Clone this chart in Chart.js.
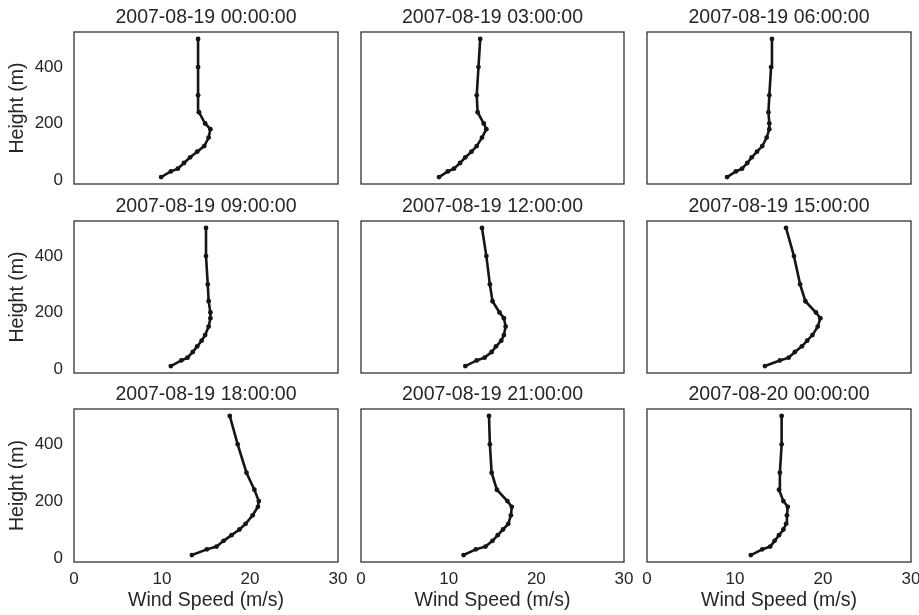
<!DOCTYPE html>
<html>
<head>
<meta charset="utf-8">
<script src="https://cdn.jsdelivr.net/npm/chart.js@4.4.0/dist/chart.umd.min.js"></script>
<style>
  html, body { margin: 0; padding: 0; background: #fff; overflow: hidden; }
  #wrap { position: relative; width: 919px; height: 615px; overflow: hidden; }
  #wrap canvas { position: absolute; }
</style>
</head>
<body>
<div id="wrap"></div>
<script>
// heights of the profile levels (m)
const heights = [10, 30, 40, 60, 80, 100, 120, 150, 180, 200, 240, 300, 400, 500];

const times = [
    '2007-08-19 00:00:00', '2007-08-19 03:00:00', '2007-08-19 06:00:00',
    '2007-08-19 09:00:00', '2007-08-19 12:00:00', '2007-08-19 15:00:00',
    '2007-08-19 18:00:00', '2007-08-19 21:00:00', '2007-08-20 00:00:00'
];

// wind speed (m/s) per level, bottom to top
const speed00 = [9.9, 11.0, 11.8, 12.5, 13.2, 14.0, 14.8, 15.3, 15.5, 14.9, 14.2, 14.1, 14.1, 14.1];
const speed03 = [8.9, 9.9, 10.6, 11.3, 11.9, 12.6, 13.2, 13.8, 14.3, 14.0, 13.3, 13.2, 13.4, 13.6];
const speed06 = [9.1, 10.1, 10.8, 11.4, 11.9, 12.5, 13.1, 13.6, 13.9, 13.9, 13.8, 13.9, 14.1, 14.2];
const speed09 = [11.0, 12.2, 12.9, 13.5, 14.0, 14.5, 14.9, 15.3, 15.5, 15.5, 15.3, 15.2, 15.0, 15.0];
const speed12 = [11.9, 13.2, 14.1, 14.9, 15.4, 16.0, 16.3, 16.5, 16.3, 15.8, 15.0, 14.7, 14.3, 13.8];
const speed15 = [13.4, 15.1, 16.1, 16.8, 17.6, 18.2, 18.8, 19.4, 19.7, 19.2, 18.0, 17.4, 16.7, 15.8];
const speed18 = [13.4, 15.1, 16.2, 17.0, 17.9, 18.8, 19.5, 20.3, 20.9, 21.0, 20.5, 19.6, 18.6, 17.7];
const speed21 = [11.7, 13.1, 14.2, 15.0, 15.6, 16.2, 16.8, 17.1, 17.2, 16.7, 15.5, 14.9, 14.7, 14.6];
const speed24 = [11.8, 13.1, 14.0, 14.5, 15.0, 15.5, 15.8, 15.9, 16.0, 15.5, 15.0, 15.1, 15.3, 15.3];
const allSpeeds = [speed00, speed03, speed06, speed09, speed12, speed15, speed18, speed21, speed24];

const xTicks = [0, 10, 20, 30];
const yTicks = [0, 200, 400];

// panel boxes in the page
const colLeft = [74, 361, 647];
const colWidth = [264, 263, 264];
const rowTop = [32, 221, 409];
const rowHeight = [152, 152, 153];

const textColor = '#262626';
Chart.defaults.font.family = '"Liberation Sans", Arial, Helvetica, sans-serif';
Chart.defaults.color = textColor;

// draws the box around the plot area
const framePlugin = {
    id: 'frame',
    beforeDatasetsDraw(chart) {
        const a = chart.chartArea;
        const ctx = chart.ctx;
        ctx.save();
        ctx.strokeStyle = '#333333';
        ctx.lineWidth = 1.3;
        ctx.strokeRect(a.left, a.top, a.right - a.left, a.bottom - a.top);
        ctx.restore();
    }
};

const wrap = document.getElementById('wrap');

allSpeeds.forEach((speeds, i) => {
    const r = Math.floor(i / 3);
    const c = i % 3;
    const isLeft = c === 0;
    const isBottom = r === 2;

    const padL = isLeft ? 74 : 20;
    const padR = 20;
    const padT = 32;
    const padB = isBottom ? 53 : 25;

    const canvas = document.createElement('canvas');
    canvas.width = padL + colWidth[c] + padR;
    canvas.height = padT + rowHeight[r] + padB;
    canvas.style.left = (colLeft[c] - padL) + 'px';
    canvas.style.top = (rowTop[r] - padT) + 'px';
    wrap.appendChild(canvas);

    new Chart(canvas.getContext('2d'), {
        type: 'line',
        data: {
            datasets: [{
                data: heights.map((h, k) => ({x: speeds[k], y: h})),
                borderColor: '#151515',
                backgroundColor: '#151515',
                borderWidth: 2.6,
                pointRadius: 2.4,
                pointHoverRadius: 2.4,
                pointBorderWidth: 0,
                tension: 0,
                fill: false
            }]
        },
        options: {
            responsive: false,
            animation: false,
            devicePixelRatio: 1,
            layout: {
                padding: {left: isLeft ? 0 : 20, right: 20, top: 0, bottom: isBottom ? 0 : 25}
            },
            plugins: {
                legend: {display: false},
                tooltip: {enabled: false},
                title: {
                    display: true,
                    fullSize: false,
                    text: times[i],
                    color: textColor,
                    font: {size: 19.5, weight: 'normal', lineHeight: 1.2},
                    padding: {top: 6, bottom: 2.6}
                }
            },
            scales: {
                x: {
                    type: 'linear',
                    min: 0,
                    max: 30,
                    display: isBottom,
                    afterBuildTicks: s => { s.ticks = xTicks.map(v => ({value: v})); },
                    afterFit: s => { if (isBottom) s.height = 53; },
                    grid: {display: false, drawTicks: false},
                    border: {display: false},
                    ticks: {padding: 7.3, font: {size: 17}, color: textColor, maxRotation: 0},
                    title: {
                        display: true,
                        text: 'Wind Speed (m/s)',
                        color: textColor,
                        font: {size: 19.5, lineHeight: 1.2},
                        padding: {top: 0, bottom: 2.5}
                    }
                },
                y: {
                    type: 'linear',
                    min: -14.5,
                    max: 524.5,
                    display: isLeft,
                    afterBuildTicks: s => { s.ticks = yTicks.map(v => ({value: v})); },
                    afterFit: s => { if (isLeft) s.width = 74; },
                    grid: {display: false, drawTicks: false},
                    border: {display: false},
                    ticks: {padding: 11, font: {size: 17}, color: textColor},
                    title: {
                        display: true,
                        text: 'Height (m)',
                        color: textColor,
                        font: {size: 19.5, lineHeight: 1.2},
                        padding: {top: 5.5, bottom: 0}
                    }
                }
            }
        },
        plugins: [framePlugin]
    });
});
</script>
</body>
</html>
